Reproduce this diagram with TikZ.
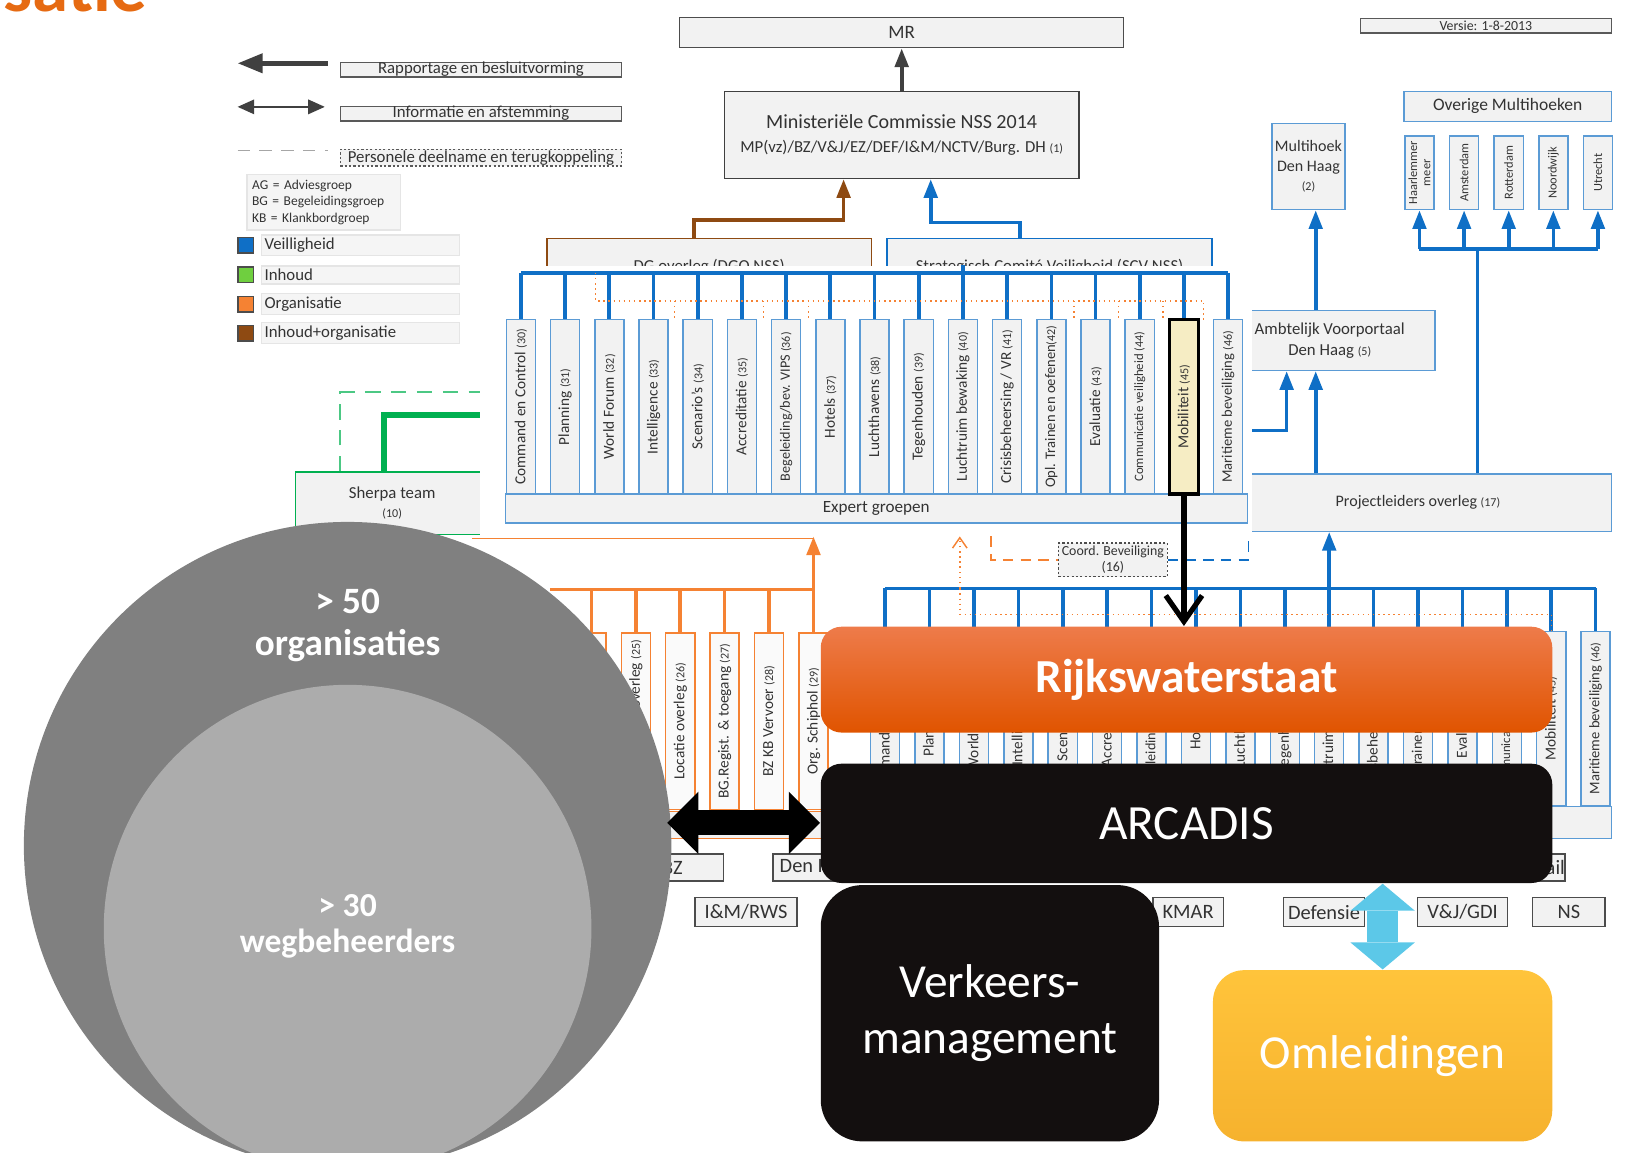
\documentclass[tikz,border=0pt]{standalone}
\usepackage{fontspec}
\setmainfont{Carlito}
\usepackage{tikz}
\usetikzlibrary{arrows.meta, positioning}
\definecolor{vblue}{HTML}{0F6FC6}
\definecolor{bbord}{HTML}{5B9BD5}
\definecolor{oline}{HTML}{F58233}
\definecolor{brn}{HTML}{8E4A12}
\definecolor{grn}{HTML}{00B050}
\definecolor{grnleg}{HTML}{6FCF3F}
\definecolor{gbox}{HTML}{F2F2F2}
\definecolor{txt}{HTML}{333333}
\definecolor{dgray}{HTML}{404040}
\definecolor{rws1}{HTML}{EE7B4A}
\definecolor{rws2}{HTML}{E05400}
\definecolor{oml1}{HTML}{FFC43B}
\definecolor{oml2}{HTML}{F6B22E}
\definecolor{arc}{HTML}{130F0F}
\definecolor{cir1}{HTML}{808080}
\definecolor{cir2}{HTML}{ACACAC}
\definecolor{tit}{HTML}{E66A12}
\definecolor{mobfill}{HTML}{F6EDC4}
\definecolor{cyn}{HTML}{5CC8E8}
\newcommand{\fsz}[2]{\fontsize{#1}{#2}\selectfont}
\newcommand{\nr}[1]{{\fontsize{3.3}{4}\selectfont #1}}
\tikzset{
  chartbox/.style = {draw=bbord, fill=gbox, inner sep=0.3mm, text=txt,
    line width=0.4pt},
  legbox/.style = {draw=gray!70!black, fill=gbox, inner sep=0pt, text=txt,
    font=\fsz{4.6}{5}, minimum width=27.1mm, minimum height=1.4mm},
  leglab/.style = {draw=gray!20, fill=gray!8, text=txt, inner sep=0.3mm,
    text width=18.5mm, align=left, minimum height=1.6mm, font=\fsz{4.6}{5}},
  sq/.style = {draw=gray!60!black, minimum size=1.5mm, inner sep=0pt},
  eb/.style = {chartbox, rotate=90, minimum width=16.8mm, minimum height=2.8mm,
    inner sep=0.2mm},
  mob/.style = {eb, draw=black, line width=0.9pt, fill=mobfill},
  ob/.style = {eb, draw=oline, fill=white!96!gray, minimum width=17mm},
  mh/.style = {chartbox, rotate=90, minimum width=7.1mm, minimum height=2.8mm,
    inner sep=0pt, font=\fsz{3.4}{3.6}, align=center},
  smallbox/.style = {draw=gray!60!black, fill=gbox, minimum height=2.8mm,
    inner sep=0pt, font=\fsz{5.6}{6}, text=txt},
  bl/.style = {draw=vblue, line width=0.35mm},
  ol/.style = {draw=oline, line width=0.35mm},
  othin/.style = {draw=oline, line width=0.4pt},
  odot/.style = {draw=oline, line width=0.4pt, densely dotted},
  odash/.style = {draw=oline, line width=0.4pt, dash pattern=on 1mm off 0.7mm},
  bdash/.style = {draw=vblue, line width=0.4pt, dash pattern=on 1mm off 0.7mm},
  gdash/.style = {draw=grn!70, line width=0.5pt, dash pattern=on 1.5mm off 1mm},
  gline/.style = {draw=grn, line width=0.5mm},
  ctext/.style = {text=white, align=center, inner sep=0pt},
  big/.style = {rounded corners=2mm, text=white, inner sep=0pt},
}

\begin{document}
\begin{tikzpicture}[x=0.1mm, y=-0.1mm, >={Triangle[length=1.8mm,width=1.3mm]}]
\useasboundingbox (0,0) rectangle (1568,1111);

% title and legend
\node[font=\bfseries\fsz{20}{22}, text=tit, anchor=base east, inner sep=0pt] (ttl) at (143,11) {Organisatie};

\coordinate (la1) at (229,61);
\coordinate (la2) at (316,61);
\coordinate (lb1) at (229,103);
\coordinate (lb2) at (313,103);
\coordinate (lc1) at (229,145);
\coordinate (lc2) at (316,145);
\draw[draw=dgray, line width=0.45mm, arrows={Triangle[length=2.4mm,width=1.8mm]-}] (la1) -- (la2);
\draw[draw=dgray, line width=0.15mm, arrows={Triangle[length=1.6mm,width=1.4mm]-Triangle[length=1.6mm,width=1.4mm]}] (lb1) -- (lb2);
\draw[draw=gray!70, line width=0.4pt, dash pattern=on 1.2mm off 0.9mm] (lc1) -- (lc2);
\node[legbox] (lg1) at (463.5,67) {Rapportage en besluitvorming};
\node[legbox] (lg2) at (463.5,109.5) {Informatie en afstemming};
\node[legbox, dash pattern=on 0.6pt off 0.6pt, minimum height=1.6mm] (lg3) at (463.5,152) {Personele deelname en terugkoppeling};
\node[leglab, text width=13.8mm, inner sep=0.5mm, font=\fsz{3.7}{4.6}] (lgab) at (312,195)
  {AG = Adviesgroep\\BG = Begeleidingsgroep\\KB = Klankbordgroep};
\foreach \k/\c/\t/\y in {1/vblue/Veilligheid/236.5, 2/grnleg/Inhoud/265,
  3/oline/Organisatie/293, 4/brn/Inhoud+organisatie/321}
{
  \node[sq, fill=\c] (sq\k) at (237,\y) {};
  \node[leglab] (lt\k) at (347.5,\y) {\t};
}

% top of the chart
\node[chartbox, draw=gray!60!black, minimum width=42.8mm, minimum height=2.9mm, font=\fsz{5.2}{6}] (mr) at (869,31.5) {MR};
\node[chartbox, draw=gray!50!black, minimum width=34.2mm, minimum height=8.4mm, align=center, font=\fsz{5.5}{6.5}] (mc) at (869,130)
  {Ministeriële Commissie NSS 2014\\{\fsz{4.6}{6.5}MP(vz)/BZ/V\&J/EZ/DEF/I\&M/NCTV/Burg. DH \nr{(1)}}};
\draw[draw=dgray, line width=0.35mm, ->] (mc) -- (mr);
\node[legbox, minimum width=24.2mm, font=\fsz{3.8}{4}] (ver) at (1432,25) {Versie: 1-8-2013};

\node[chartbox, minimum width=7mm, minimum height=8.3mm, align=center, font=\fsz{4.4}{5.4}] (mhdh) at (1261,160.5)
  {Multihoek\\Den Haag\\\nr{(2)}};
\node[chartbox, minimum width=20mm, minimum height=2.9mm, font=\fsz{4.8}{5}] (omh) at (1453,102.5) {Overige Multihoeken};
\foreach \k/\t in {1/{Haarlemmer\\meer}, 2/Amsterdam, 3/Rotterdam, 4/Noordwijk, 5/Utrecht}
  \node[mh] (mh\k) at ({1368+43*(\k-1)},166.5) {\t};
\coordinate (obar) at (1424,240);
\draw[bl] (mh1.west |- obar) -- (mh5.west |- obar);
\foreach \k in {1,...,5}
  \draw[bl, ->] (mh\k.west |- obar) -- (mh\k.west);

\node[chartbox, minimum width=20.3mm, minimum height=5.8mm, align=center, font=\fsz{4.6}{5.7}] (amb) at (1281.5,328)
  {Ambtelijk Voorportaal\\Den Haag \nr{(5)}};
\node[chartbox, minimum width=37.3mm, minimum height=5.5mm, font=\fsz{4.4}{5}] (plo) at (1366.5,484.5)
  {Projectleiders overleg \nr{(17)}};
\draw[bl] (obar) -- (obar |- plo.north);
\coordinate (a1) at ([xshift=-1.35mm]amb.north);
\coordinate (a2) at ([xshift=-1.35mm]amb.south);
\coordinate (a3) at (1205,415);
\coordinate (a4) at ([xshift=-4.15mm]amb.south);
\draw[bl, ->] (a1) -- (a1 |- mhdh.south);
\draw[bl, ->] (a2 |- plo.north) -- (a2);
\draw[bl, ->] (a3) -| (a4);

% groups under the commission (partly covered)
\node[chartbox, draw=brn, minimum width=31.3mm, minimum height=5.4mm, font=\fsz{4.6}{5}] (dgo) at (683.5,257) {DG overleg (DGO NSS)};
\node[chartbox, draw=vblue, minimum width=31.3mm, minimum height=5.4mm, font=\fsz{4.6}{5}] (scv) at (1011.5,257) {Strategisch Comité Veiligheid (SCV NSS)};
\draw[draw=brn, line width=0.35mm, ->] ([xshift=-1.45mm]dgo.north) -- ++(0,-17) -| ([xshift=-5.6mm]mc.south);
\draw[bl, ->] ([xshift=-2.85mm]scv.north) -- ++(0,-15) -| ([xshift=2.8mm]mc.south);

\node[chartbox, draw=grn, minimum width=18.6mm, minimum height=6mm, align=center, font=\fsz{4.6}{5.1}] (sherpa) at (378,485)
  {Sherpa team\\\nr{(10)}};
\coordinate (g1) at (480,378);
\coordinate (g2) at (480,400);
\draw[gdash] ([xshift=-5mm]sherpa.north) |- (g1);
\draw[gline] ([xshift=-0.8mm]sherpa.north) |- (g2);

% expert groups (pasted on top)
\fill[white] (463,256) rectangle (1207,516);
\node[chartbox, minimum width=71.5mm, minimum height=2.8mm, font=\fsz{4.7}{5}] (eg) at (844.5,490) {Expert groepen};
\node[chartbox, minimum width=70mm, minimum height=3.1mm] (leg) at (1203,792.5) {};
\foreach \i/\t/\s/\st in {
  1/{Command en Control \nr{(30)}}/4.2/eb,
  2/{Planning \nr{(31)}}/4.2/eb,
  3/{World Forum \nr{(32)}}/4.2/eb,
  4/{Intelligence \nr{(33)}}/4.2/eb,
  5/{Scenario’s \nr{(34)}}/4.2/eb,
  6/{Accreditatie \nr{(35)}}/4.2/eb,
  7/{Begeleiding/bev. VIPS \nr{(36)}}/3.9/eb,
  8/{Hotels \nr{(37)}}/4.2/eb,
  9/{Luchthavens \nr{(38)}}/4.2/eb,
  10/{Tegenhouden \nr{(39)}}/4.2/eb,
  11/{Luchtruim bewaking \nr{(40)}}/4.2/eb,
  12/{Crisisbeheersing / VR \nr{(41)}}/4.2/eb,
  13/{Opl. Trainen en oefenen\nr{(42)}}/4.0/eb,
  14/{Evaluatie \nr{(43)}}/4.2/eb,
  15/{Communicatie veiligheid \nr{(44)}}/3.5/eb,
  16/{Mobiliteit \nr{(45)}}/4.2/mob,
  17/{Maritieme beveiliging \nr{(46)}}/4.0/eb}
{
  \node[\st, font=\fsz{\s}{5}] (e\i) at ({502+42.6*(\i-1)},392) {\t};
  \node[eb, font=\fsz{\s}{5}] (l\i) at ({853+42.8*(\i-1)},692.5) {\t};
}
\coordinate (ebar) at (502,263);
\draw[bl] (e1.east |- ebar) -- (e17.east |- ebar);
\foreach \i in {1,...,17}
  \draw[bl] (e\i.east) -- (e\i.east |- ebar);
\draw[bl] (e11.east |- ebar) -- ++(0,-8);
\coordinate (od1) at (574,263);
\coordinate (od2) at (1160,308);
\draw[odot] (od1) -- ++(0,27) -| (od2);
\foreach \x in {650,736,779,1035,1078,1121}
  \draw[odot] (\x,290) -- (\x,308);

% lower blue groups
\coordinate (lbar) at (853,567);
\draw[bl] (l1.east |- lbar) -- (l17.east |- lbar);
\foreach \i in {1,...,17}
  \draw[bl] (l\i.east) -- (l\i.east |- lbar);
\draw[bl, ->] (l11.east |- lbar) -- (l11.east |- plo.south);
\coordinate (ob1) at (925,567);
\coordinate (ovb) at (785,517);
\draw[odot] (ob1) -- ++(0,25) -| (l16.east);
\draw[odot, -{Straight Barb[length=1mm,width=1.4mm]}] (ob1) -- (ob1 |- ovb);

\node[chartbox, draw=gray!60!black, dash pattern=on 0.6pt off 0.6pt, minimum width=10.5mm, minimum height=2.9mm, align=center, font=\fsz{3.8}{4.3}] (coord) at (1072.5,539.5)
  {Coord. Beveiliging\\(16)};
\coordinate (cd1) at (955,517);
\coordinate (cd2) at (1203,517);
\draw[odash] (cd1) |- (coord.west);
\draw[bdash] (coord.east) -| (cd2);

% organisation groups
\node[chartbox, draw=oline, minimum width=26mm, minimum height=2.6mm] (orgbar) at (670,795) {};
\foreach \k/\t in {1/{}, 2/{\hspace*{9mm}overleg \nr{(25)}}, 3/{Locatie overleg \nr{(26)}},
  4/{BG.Regist. \& toegang \nr{(27)}}, 5/{BZ KB Vervoer \nr{(28)}}, 6/{Org. Schiphol \nr{(29)}}}
  \node[ob, font=\fsz{4.2}{5}] (o\k) at ({570+42.8*(\k-1)},695) {\t};
\coordinate (obr) at (530,568);
\draw[ol] (obr) -- (o6.east |- obr);
\foreach \k in {1,...,6}
  \draw[ol] (o\k.east) -- (o\k.east |- obr);
\draw[ol, ->] (o6.east |- obr) -- (o6.east |- ovb);
\coordinate (ot1) at (455,519);
\draw[othin] (ot1) -- (o6.east |- ot1);

\node[smallbox, minimum width=9.8mm, minimum height=2.6mm] (bz) at (648,836) {BZ};
\node[smallbox, minimum width=9mm, minimum height=2.6mm] (dh) at (790,836) {Den Haag};
\node[smallbox, minimum width=5.6mm, minimum height=2.6mm] (prr) at (1480,836) {ProRail};
\node[smallbox, minimum width=9.8mm] (imr) at (719,879) {I\&M/RWS};
\node[smallbox, minimum width=6.8mm] (kmar) at (1145,879) {KMAR};
\node[smallbox, minimum width=7.8mm] (def) at (1276,879) {Defensie};
\node[smallbox, minimum width=8.7mm] (vj) at (1409.5,879) {V\&J/GDI};
\node[smallbox, minimum width=7mm] (ns) at (1512,879) {NS};

% overlay shapes
\node[circle, fill=cir1, minimum size=62.4mm, inner sep=0pt] (orgs) at (335,815) {};
\node[circle, fill=cir2, minimum size=47mm, inner sep=0pt] (wegb) at (335,895) {};
\node[ctext, font=\bfseries\fsz{10.2}{11.4}] (orgst) at (335,603) {> 50\\organisaties};
\node[ctext, font=\bfseries\fsz{9.2}{9.8}] (wegbt) at (335,893) {> 30\\wegbeheerders};

\node[big, font=\bfseries\fsz{13}{15}, top color=rws1, bottom color=rws2, minimum width=70.5mm, minimum height=10.2mm] (rws) at (1143.5,655) {Rijkswaterstaat};
\node[big, fill=arc, font=\fsz{13.5}{15}, minimum width=70.5mm, minimum height=11.5mm] (arc) at (1143.5,793.5) {ARCADIS};
\node[big, fill=arc, rounded corners=4mm, align=center, font=\fsz{13}{15.4}, minimum width=32.6mm, minimum height=24.7mm] (vkm) at (954,976.5) {Verkeers-\\management};
\node[big, top color=oml1, bottom color=oml2, rounded corners=3mm, font=\fsz{13}{15}, minimum width=32.7mm, minimum height=16.5mm] (oml) at (1332.5,1017.5) {Omleidingen};

\coordinate (dbl) at (643,793);
\draw[draw=black, line width=2.4mm, arrows={Triangle[length=3mm,width=6mm,line width=0pt]-Triangle[length=3mm,width=6mm,line width=0pt]}] (dbl) -- (arc.west |- dbl);
\draw[draw=cyn, line width=3mm, arrows={Triangle[length=2.6mm,width=6.2mm,line width=0pt]-Triangle[length=2.6mm,width=6.2mm,line width=0pt]}] (arc.south -| oml.north) -- (oml.north);
\draw[draw=black, line width=0.5mm, -{Straight Barb[length=2.5mm,width=3.5mm]}] (e16.west) -- (e16.west |- rws.north);
\end{tikzpicture}
\end{document}
